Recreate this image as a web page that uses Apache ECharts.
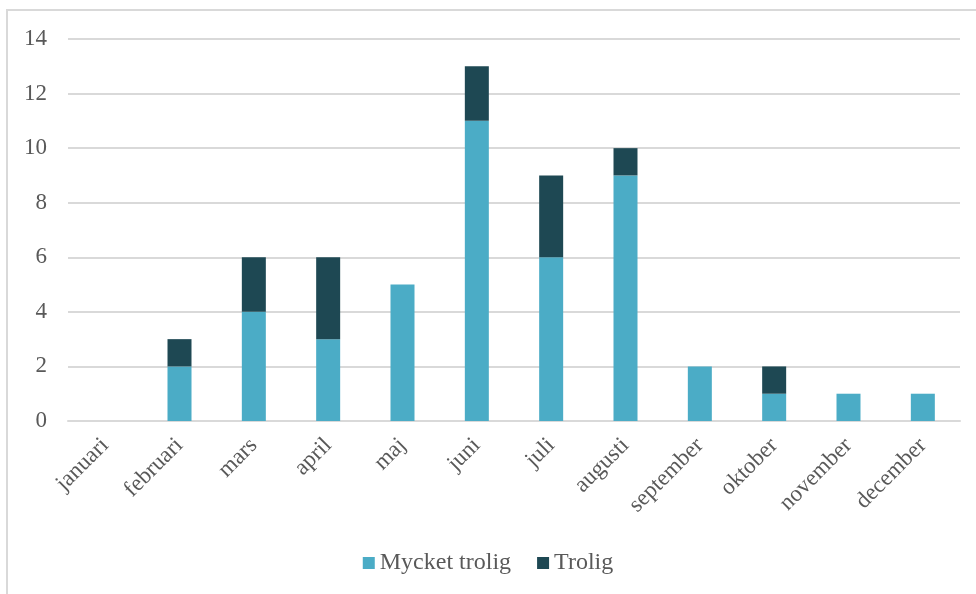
<!DOCTYPE html>
<html>
<head>
<meta charset="utf-8">
<script src="https://cdn.jsdelivr.net/npm/echarts@6/dist/echarts.min.js"></script>
<style>
  html, body { margin: 0; padding: 0; background: #fff; }
  #chart { width: 976px; height: 594px; }
</style>
</head>
<body>
<div id="chart"></div>
<script>
const months = ['januari', 'februari', 'mars', 'april', 'maj', 'juni', 'juli', 'augusti', 'september', 'oktober', 'november', 'december'];
const myckerTrolig = [0, 2, 4, 3, 5, 11, 6, 9, 2, 1, 1, 1];
const trolig = [0, 1, 2, 3, 0, 2, 3, 1, 0, 1, 0, 0];
const seriesNames = ['Mycket trolig', 'Trolig'];

const font = 'Liberation Serif';
const textColor = '#595959';
const gridColor = '#d9d9d9';

const chart = echarts.init(document.getElementById('chart'), null, { renderer: 'canvas' });
chart.setOption({
  backgroundColor: '#fff',
  animation: false,
  textStyle: { fontFamily: font },
  graphic: [{
    type: 'rect',
    shape: { x: 7, y: 10, width: 1000, height: 620 },
    style: { fill: 'none', stroke: gridColor, lineWidth: 2 },
    silent: true
  }],
  grid: { left: 68, right: 16, top: 39, bottom: 173 },
  legend: {
    bottom: 14,
    left: 'center',
    itemWidth: 12,
    itemHeight: 12,
    itemGap: 26,
    icon: 'rect',
    textStyle: { fontFamily: font, fontSize: 24, color: textColor },
    data: seriesNames
  },
  xAxis: {
    type: 'category',
    data: months,
    axisLine: { show: true, lineStyle: { color: gridColor, width: 2 } },
    axisTick: { show: false },
    axisLabel: {
      interval: 0,
      rotate: 45,
      margin: 21,
      fontFamily: font,
      fontSize: 23,
      color: textColor
    }
  },
  yAxis: {
    type: 'value',
    min: 0,
    max: 14,
    interval: 2,
    axisLine: { show: false },
    axisTick: { show: false },
    splitLine: { lineStyle: { color: gridColor, width: 2 } },
    axisLabel: { margin: 21, fontFamily: font, fontSize: 23, color: textColor }
  },
  series: [
    {
      name: seriesNames[0],
      type: 'bar',
      stack: 'total',
      barWidth: 24,
      itemStyle: { color: '#4BACC6' },
      data: myckerTrolig
    },
    {
      name: seriesNames[1],
      type: 'bar',
      stack: 'total',
      barWidth: 24,
      itemStyle: { color: '#1E4853' },
      data: trolig
    }
  ]
});
</script>
</body>
</html>
